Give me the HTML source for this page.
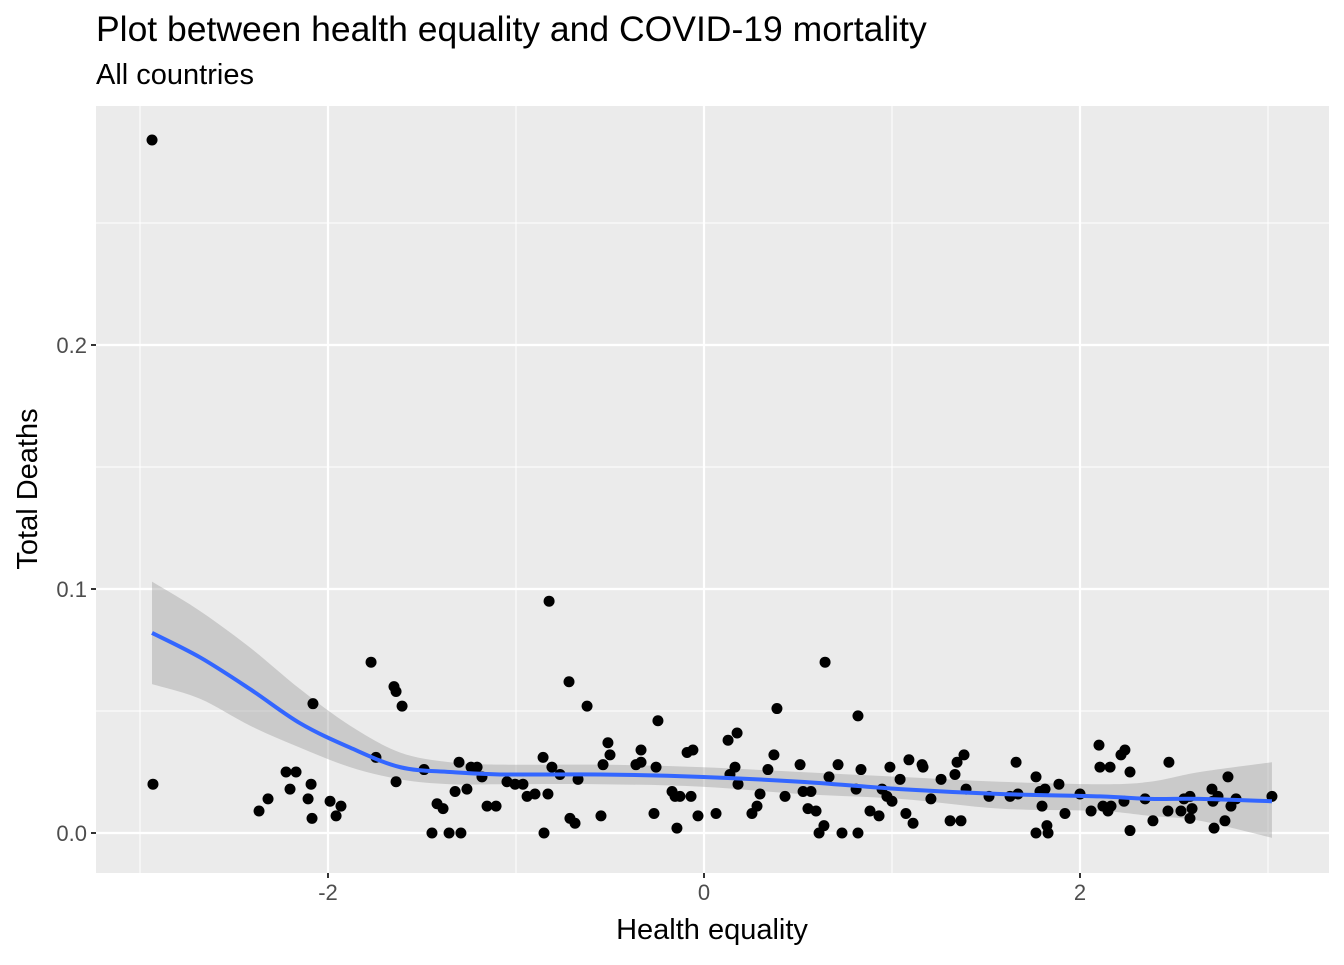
<!DOCTYPE html>
<html><head><meta charset="utf-8"><style>
body{margin:0;background:#fff;font-family:"Liberation Sans",sans-serif}
svg text{font-family:"Liberation Sans",sans-serif}
</style></head><body>
<svg id="chart" width="1344" height="960">
<rect width="1344" height="960" fill="#fff"/>
<text x="96" y="41" font-size="35.5" fill="#000">Plot between health equality and COVID-19 mortality</text>
<text x="96" y="84" font-size="29" fill="#000">All countries</text>
<rect x="96" y="106" width="1233" height="767" fill="#ebebeb"/>
<g id="grid"></g><g id="band"></g><g id="pts"></g><g id="line"></g><g id="axes"></g>
<text x="712" y="939" font-size="29" text-anchor="middle" fill="#000">Health equality</text>
<text transform="translate(37,489) rotate(-90)" font-size="29" text-anchor="middle" fill="#000">Total Deaths</text>
</svg>
<script>
const xs=[-2.936,-2.931,-2.367,-2.319,-2.223,-2.202,-2.170,-2.106,-2.090,-2.085,-2.080,-1.989,-1.957,-1.931,-1.771,-1.745,-1.649,-1.638,-1.638,-1.606,-1.489,-1.447,-1.420,-1.388,-1.356,-1.324,-1.303,-1.293,-1.261,-1.239,-1.207,-1.181,-1.154,-1.106,-1.048,-1.005,-0.963,-0.941,-0.899,-0.856,-0.851,-0.830,-0.824,-0.809,-0.766,-0.718,-0.713,-0.686,-0.670,-0.622,-0.548,-0.537,-0.511,-0.500,-0.362,-0.335,-0.335,-0.266,-0.255,-0.245,-0.170,-0.154,-0.144,-0.128,-0.090,-0.069,-0.059,-0.032,0.064,0.128,0.138,0.165,0.176,0.181,0.255,0.282,0.298,0.340,0.372,0.388,0.431,0.511,0.527,0.553,0.569,0.596,0.612,0.644,0.638,0.665,0.713,0.734,0.809,0.819,0.819,0.835,0.883,0.931,0.947,0.973,0.989,1.000,1.043,1.074,1.090,1.112,1.160,1.165,1.207,1.261,1.309,1.335,1.346,1.367,1.383,1.394,1.516,1.628,1.660,1.670,1.766,1.766,1.787,1.798,1.814,1.824,1.830,1.888,1.920,2.000,2.059,2.101,2.106,2.122,2.149,2.160,2.165,2.218,2.234,2.239,2.266,2.266,2.346,2.388,2.468,2.473,2.537,2.553,2.585,2.585,2.596,2.702,2.707,2.713,2.734,2.771,2.787,2.803,2.830,3.021];
const ys=[0.284,0.020,0.009,0.014,0.025,0.018,0.025,0.014,0.020,0.006,0.053,0.013,0.007,0.011,0.070,0.031,0.060,0.058,0.021,0.052,0.026,0,0.012,0.010,0,0.017,0.029,0,0.018,0.027,0.027,0.023,0.011,0.011,0.021,0.020,0.020,0.015,0.016,0.031,0,0.016,0.095,0.027,0.024,0.062,0.006,0.004,0.022,0.052,0.007,0.028,0.037,0.032,0.028,0.034,0.029,0.008,0.027,0.046,0.017,0.015,0.002,0.015,0.033,0.015,0.034,0.007,0.008,0.038,0.024,0.027,0.041,0.020,0.008,0.011,0.016,0.026,0.032,0.051,0.015,0.028,0.017,0.010,0.017,0.009,0,0.070,0.003,0.023,0.028,0,0.018,0.048,0,0.026,0.009,0.007,0.018,0.015,0.027,0.013,0.022,0.008,0.030,0.004,0.028,0.027,0.014,0.022,0.005,0.024,0.029,0.005,0.032,0.018,0.015,0.015,0.029,0.016,0.023,0,0.017,0.011,0.018,0.003,0,0.020,0.008,0.016,0.009,0.036,0.027,0.011,0.009,0.027,0.011,0.032,0.013,0.034,0.025,0.001,0.014,0.005,0.009,0.029,0.009,0.014,0.006,0.015,0.010,0.018,0.013,0.002,0.015,0.005,0.023,0.011,0.014,0.015];
const fitX=[-2.936,-2.681,-2.415,-2.149,-1.883,-1.617,-1.351,-1.085,-0.553,-0.021,0.511,1.043,1.574,2.106,2.372,2.638,3.021];
const fitY=[0.082,0.072,0.059,0.045,0.035,0.027,0.025,0.024,0.024,0.023,0.021,0.018,0.016,0.015,0.014,0.014,0.013];
const fitHi=[0.103,0.091,0.076,0.059,0.044,0.033,0.029,0.028,0.028,0.027,0.025,0.023,0.021,0.020,0.021,0.025,0.029];
const fitLo=[0.061,0.055,0.044,0.035,0.027,0.022,0.020,0.020,0.020,0.019,0.016,0.014,0.010,0.009,0.007,0.005,-0.002];
const xTicks=[-2,0,2], xTickLabels=["-2","0","2"], xMinor=[-3,-1,1,3];
const yTicks=[0,0.1,0.2], yTickLabels=["0.0","0.1","0.2"], yMinor=[0.05,0.15,0.25];
const L=96,R=1329,T=106,B=873;
const sx=v=>704+v*188, sy=v=>833-v*2440;
const NS="http://www.w3.org/2000/svg";
function mk(tag,attrs,parent){const e=document.createElementNS(NS,tag);for(const k in attrs)e.setAttribute(k,attrs[k]);parent.appendChild(e);return e;}
const grid=document.getElementById('grid'),axes=document.getElementById('axes');
xMinor.forEach(v=>{if(sx(v)<L||sx(v)>R)return;const l=mk('line',{x1:sx(v),x2:sx(v),y1:T,y2:B,stroke:'#fff','stroke-width':1},grid);

});
yMinor.forEach(v=>{const l=mk('line',{x1:L,x2:R,y1:sy(v),y2:sy(v),stroke:'#fff','stroke-width':1},grid);

});
xTicks.forEach((v,i)=>{const l=mk('line',{x1:sx(v),x2:sx(v),y1:T,y2:B,stroke:'#fff','stroke-width':2.2},grid);


const t=mk('line',{x1:sx(v),x2:sx(v),y1:B,y2:B+5,stroke:'#333','stroke-width':2},axes);


const tx=mk('text',{x:sx(v),y:B+27,'font-size':22,'text-anchor':'middle',fill:'#4d4d4d'},axes);tx.textContent=xTickLabels[i];

});
yTicks.forEach((v,i)=>{const l=mk('line',{x1:L,x2:R,y1:sy(v),y2:sy(v),stroke:'#fff','stroke-width':2.2},grid);


const t=mk('line',{x1:L-5,x2:L,y1:sy(v),y2:sy(v),stroke:'#333','stroke-width':2},axes);


const tx=mk('text',{x:L-9,y:sy(v)+8,'font-size':22,'text-anchor':'end',fill:'#4d4d4d'},axes);tx.textContent=yTickLabels[i];

});
function smooth(px,py){let d='';for(let i=0;i<px.length;i++){if(i===0){d+=`M${px[0]},${py[0]}`;continue;}
const x0=px[Math.max(i-2,0)],y0=py[Math.max(i-2,0)],x1=px[i-1],y1=py[i-1],x2=px[i],y2=py[i],x3=px[Math.min(i+1,px.length-1)],y3=py[Math.min(i+1,px.length-1)];
d+=`C${x1+(x2-x0)/6},${y1+(y2-y0)/6} ${x2-(x3-x1)/6},${y2-(y3-y1)/6} ${x2},${y2}`;}return d;}
const X=fitX.map(sx);
const up=smooth(X,fitHi.map(sy));
const loRev=smooth(X.slice().reverse(),fitLo.map(sy).reverse());
const band=mk('path',{d:up+' L'+loRev.slice(1)+' Z',fill:'#999','fill-opacity':0.4},document.getElementById('band'));


const pts=document.getElementById('pts');
xs.forEach((v,i)=>{const c=mk('circle',{cx:sx(v),cy:sy(ys[i]),r:5.5,fill:'#000'},pts);

});
const ln=mk('path',{d:smooth(X,fitY.map(sy)),fill:'none',stroke:'#3366ff','stroke-width':4},document.getElementById('line'));


</script>
</body></html>
